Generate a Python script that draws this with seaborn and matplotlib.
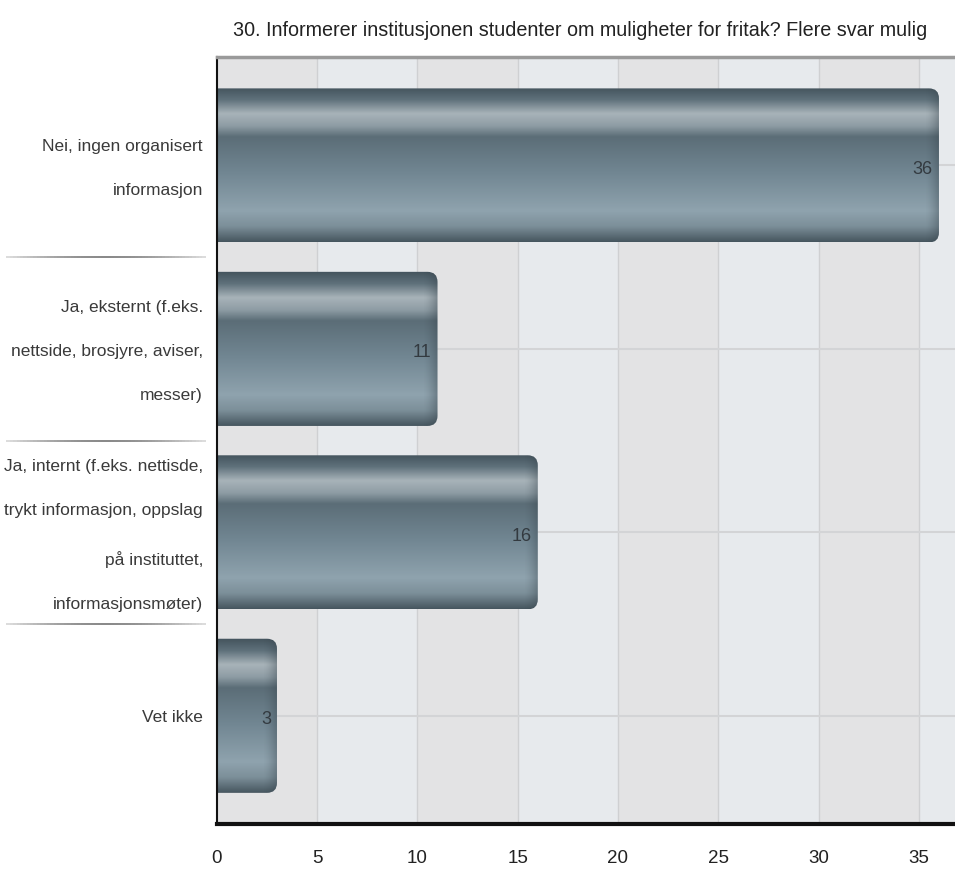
# plot.py
import numpy as np
import pandas as pd
import seaborn as sns
import matplotlib.pyplot as plt
from matplotlib.colors import LinearSegmentedColormap
from matplotlib.patches import FancyBboxPatch
from matplotlib.collections import LineCollection
from matplotlib.transforms import ScaledTranslation
from matplotlib import font_manager

# Survey answers
categories = [
    "Nei, ingen organisert\ninformasjon",
    "Ja, eksternt (f.eks.\nnettside, brosjyre, aviser,\nmesser)",
    "Ja, internt (f.eks. nettisde,\ntrykt informasjon, oppslag\npå instituttet,\ninformasjonsmøter)",
    "Vet ikke",
]
counts = [36, 11, 16, 3]
xticks = [0, 5, 10, 15, 20, 25, 30, 35]
title = "30. Informerer institusjonen studenter om muligheter for fritak? Flere svar mulig"

df = pd.DataFrame({"Svar": categories, "Antall": counts})

sns.set_style("white")
names = {f.name for f in font_manager.fontManager.ttflist}
narrow = "Liberation Sans Narrow" in names
plt.rcParams["font.family"] = ["Liberation Sans Narrow" if narrow else "Liberation Sans", "DejaVu Sans"]
k = 1.2 if narrow else 1.0  # size factor when a narrow face exists

fig = plt.figure(figsize=(9.55, 8.8), dpi=100)
ax = fig.add_axes([0.227, 0.0636, 0.773, 0.8714])

xmax = 36.8
# striped background
for i, x0 in enumerate(range(0, 40, 5)):
    ax.axvspan(x0, x0 + 5, color="#e3e3e4" if i % 2 == 0 else "#e7eaed", zorder=0, lw=0)
for x in xticks[1:]:
    ax.axvline(x, color="#cfd0d2", lw=1, zorder=0.5)
for y in range(len(categories)):
    ax.axhline(y, color="#d3d4d6", lw=1.5, zorder=0.5)

n0 = len(ax.patches)
sns.barplot(data=df, x="Antall", y="Svar", orient="h", width=0.84, ax=ax, zorder=2)
bars = list(ax.patches)[n0:]

# cylinder-like gradient on bars
cmap = LinearSegmentedColormap.from_list("bar", [
    (0.00, "#43535c"), (0.08, "#5f717b"), (0.17, "#a8b3b9"), (0.25, "#8e9ca4"),
    (0.32, "#5b6d77"), (0.55, "#718692"), (0.80, "#8fa3ae"), (0.90, "#7c8f99"),
    (1.00, "#46565f"),
])
grad = np.linspace(0, 1, 256).reshape(-1, 1)
shade = np.zeros((1, 64, 4))
shade[..., :3] = [0.2, 0.25, 0.28]
shade[..., 3] = np.linspace(0, 0.55, 64) ** 1.5
for p in bars:
    x0, y0, w, h = p.get_x(), p.get_y(), p.get_width(), p.get_height()
    p.set_visible(False)
    box = FancyBboxPatch((x0 - 1, y0), w + 1, h, boxstyle="round,pad=0,rounding_size=0.5",
                         mutation_aspect=0.11, transform=ax.transData,
                         facecolor="none", edgecolor="none")
    ax.add_patch(box)
    im = ax.imshow(grad, cmap=cmap, aspect="auto", extent=(x0 - 1, x0 + w, y0 + h, y0),
                   zorder=2, interpolation="bilinear")
    im.set_clip_path(box)
    edge = ax.imshow(shade, aspect="auto", extent=(x0 + w - 0.7, x0 + w, y0 + h, y0),
                     zorder=2.1, interpolation="bilinear")
    edge.set_clip_path(box)

for y, v in enumerate(counts):
    ax.text(v - 0.3, y + 0.02, str(v), ha="right", va="center", fontsize=13 * k,
            color="#333a40", zorder=3)

ax.set_xlim(0, xmax)
ax.set_ylim(len(categories) - 0.41, -0.59)
ax.set_xticks(xticks)
ax.set_xticklabels([str(t) for t in xticks], fontsize=13.5 * k, color="#222222")
ax.tick_params(axis="x", length=9, width=1.5, color="#111111", pad=10)
ax.tick_params(axis="y", length=5, width=1.5, color="#111111", pad=5)
lift = ScaledTranslation(0, 0.13, fig.dpi_scale_trans)
for lab in ax.get_yticklabels():
    lab.set_fontsize(12.5 * k)
    lab.set_color("#3a3a3a")
    lab.set_linespacing(3.4 / k)
    lab.set_horizontalalignment("right")
    if "\n" in lab.get_text():
        lab.set_transform(lab.get_transform() + lift)
ax.set_xlabel("")
ax.set_ylabel("")

# separators between labels, darker in the middle
xs = np.linspace(-0.285, -0.015, 60)
trans = ax.get_yaxis_transform()
for yb in [0.5, 1.5, 2.5]:
    segs = [[(xs[i], yb), (xs[i + 1], yb)] for i in range(len(xs) - 1)]
    alphas = 0.25 + 0.6 * np.sin(np.linspace(0, np.pi, len(segs)))
    cols = [(0.45, 0.45, 0.45, a) for a in alphas]
    lc = LineCollection(segs, colors=cols, linewidths=1.4, transform=trans, clip_on=False)
    ax.add_collection(lc, autolim=False)

ax.spines["top"].set_color("#9a9a9a")
ax.spines["top"].set_linewidth(2.5)
ax.spines["right"].set_visible(False)
ax.spines["left"].set_color("#111111")
ax.spines["left"].set_linewidth(1.5)
ax.spines["bottom"].set_color("#111111")
ax.spines["bottom"].set_linewidth(3)

ax.set_title(title, fontsize=14.2 * k, color="#222222", pad=15, x=0.4925)

fig.savefig("out.png", dpi=100)
print("saved out.png")
